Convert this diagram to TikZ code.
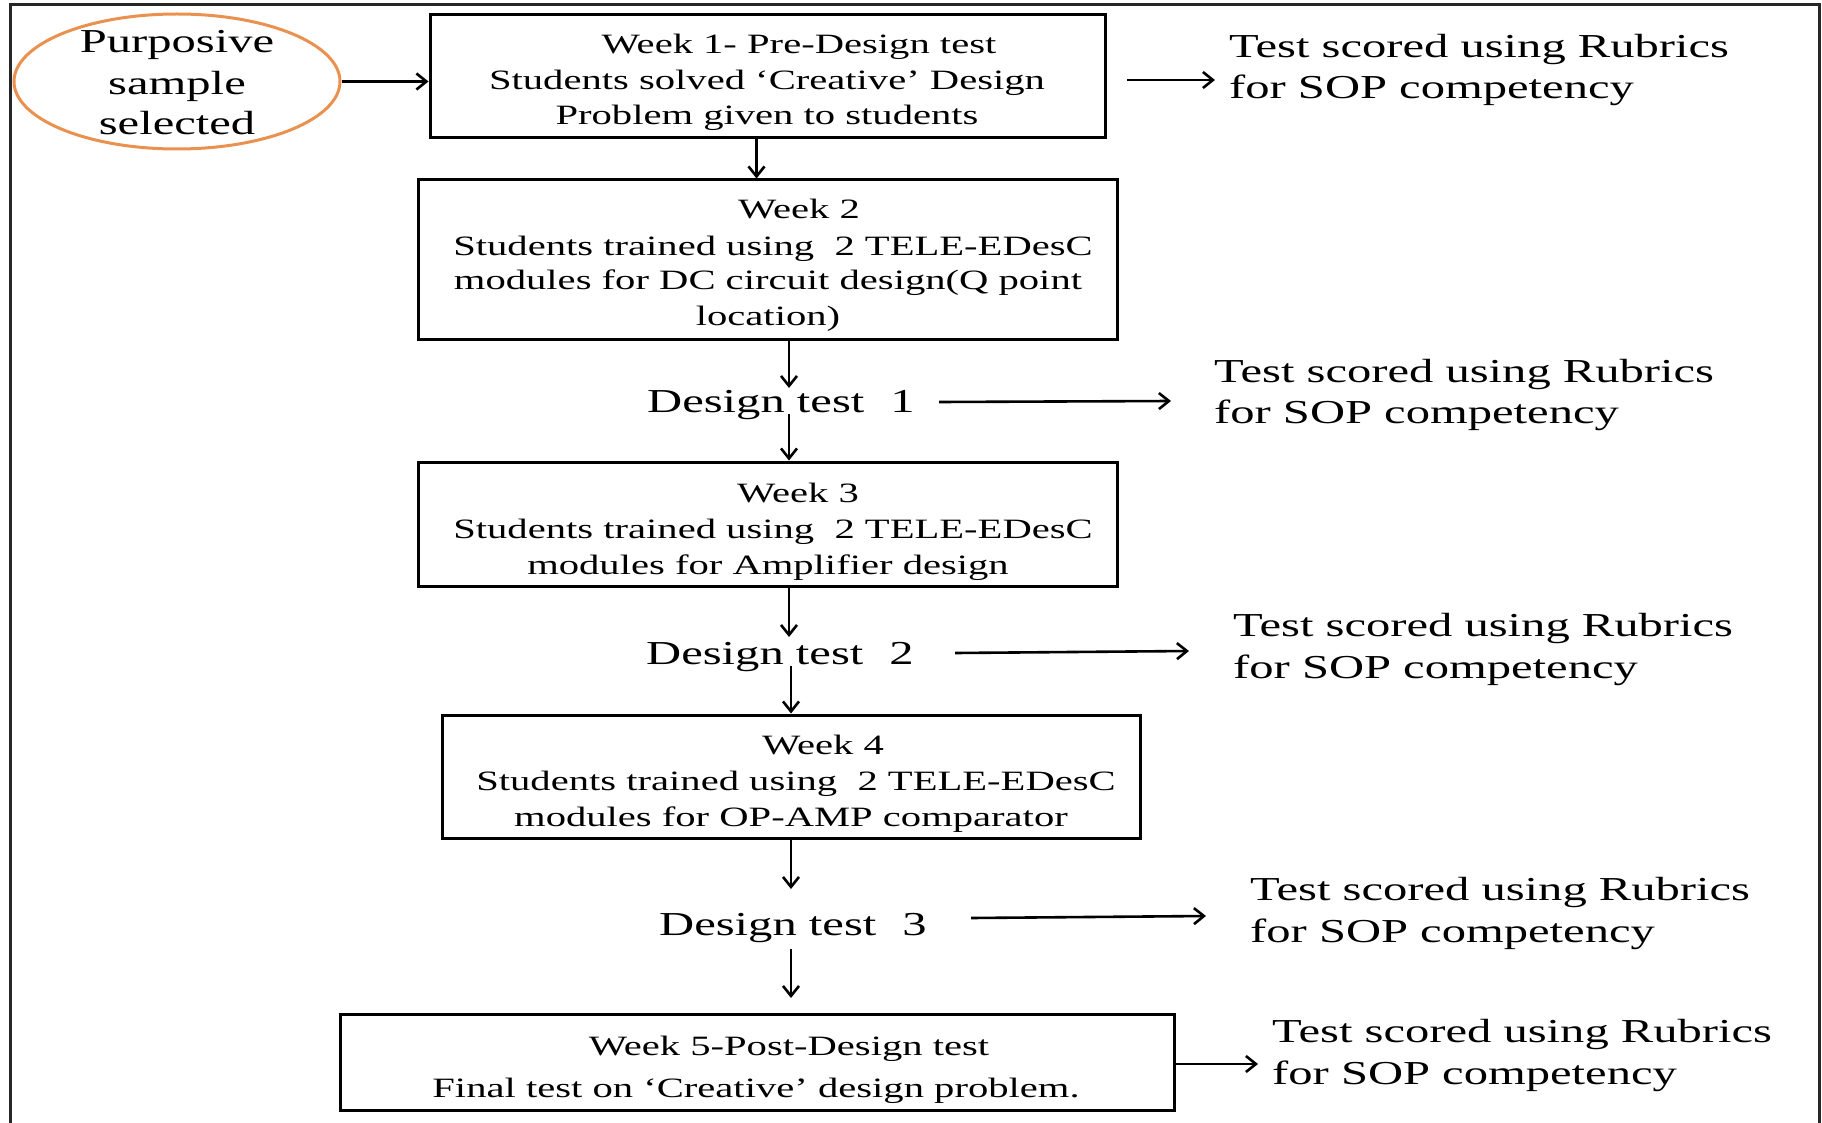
\documentclass[tikz,border=0pt]{standalone}
\usepackage{fontspec}
\setmainfont{Liberation Serif}[FakeStretch=1.45]
\usetikzlibrary{arrows.meta,shapes.geometric}
\definecolor{ellorange}{RGB}{234,145,80}
\tikzset{
  box/.style={draw, line width=3pt, inner sep=0pt},
  small/.style={font=\fontsize{28}{35}\selectfont, inner sep=0pt, anchor=base},
  big/.style={font=\fontsize{33.5}{42}\selectfont, inner sep=0pt, anchor=base},
  bigl/.style={font=\fontsize{33.5}{42}\selectfont, inner sep=0pt, anchor=base west},
  arr/.style={line width=2.6pt, -{Straight Barb[length=10pt,width=16pt]}}
}
\begin{document}
\begin{tikzpicture}[x=1pt,y=-1pt]
\useasboundingbox (0,0) rectangle (1822,1123);
% frame
\draw[line width=3pt, black!85] (10,1125) -- (10,5) -- (1819,5) -- (1819,1125);

% ellipse
\node[draw=ellorange, ellipse, line width=3pt, minimum width=326pt, minimum height=135pt, inner sep=0pt] (ell) at (177,81.5) {};
\node[big] (e1) at (177,53) {Purposive};
\node[big] (e2) at (177,95) {sample};
\node[big] (e3) at (177,135) {selected};

% boxes
\node[box, minimum width=675pt, minimum height=123pt] (b1) at (767.5,76.5) {};
\node[box, minimum width=699pt, minimum height=159pt] (b2) at (767.5,259.5) {};
\node[box, minimum width=699pt, minimum height=124pt] (b3) at (767.5,524) {};
\node[box, minimum width=698pt, minimum height=123pt] (b4) at (791,776.5) {};
\node[box, minimum width=834pt, minimum height=96pt] (b5) at (757,1062) {};

% box texts
\node[small] (t11) at (799,54) {Week 1- Pre-Design test};
\node[small] (t12) at (767,89.5) {Students solved ‘Creative’ Design};
\node[small] (t13) at (767,125) {Problem given to students};

\node[small] (t21) at (799,219) {Week 2};
\node[small] (t22) at (773,255) {Students trained using~~2 TELE-EDesC};
\node[small] (t23) at (768,290) {modules for DC circuit design(Q point};
\node[small] (t24) at (768,325) {location)};

\node[small] (t31) at (798,502) {Week 3};
\node[small] (t32) at (773,538) {Students trained using~~2 TELE-EDesC};
\node[small] (t33) at (768,574) {modules for Amplifier design};

\node[small] (t41) at (823,754) {Week 4};
\node[small] (t42) at (796,790) {Students trained using~~2 TELE-EDesC};
\node[small] (t43) at (791,826) {modules for OP-AMP comparator};

\node[small] (t51) at (789,1055) {Week 5-Post-Design test};
\node[small] (t52) at (756,1097) {Final test on ‘Creative’ design problem.};

% design tests
\node[bigl] (dt1) at (647,412) {Design test\hspace{26pt}1};
\node[bigl] (dt2) at (646,664) {Design test\hspace{26pt}2};
\node[bigl] (dt3) at (659,935) {Design test\hspace{26pt}3};

% right texts
\node[bigl] (r1a) at (1229,57.3) {Test scored using Rubrics};
\node[bigl] (r1b) at (1229,99) {for SOP competency};
\node[bigl] (r2a) at (1214,382) {Test scored using Rubrics};
\node[bigl] (r2b) at (1214,423) {for SOP competency};
\node[bigl] (r3a) at (1233,636) {Test scored using Rubrics};
\node[bigl] (r3b) at (1233,678) {for SOP competency};
\node[bigl] (r4a) at (1250,900) {Test scored using Rubrics};
\node[bigl] (r4b) at (1250,942) {for SOP competency};
\node[bigl] (r5a) at (1272,1042) {Test scored using Rubrics};
\node[bigl] (r5b) at (1272,1084) {for SOP competency};

% coordinates for free arrow ends
\coordinate (x1) at (756.5,0);
\coordinate (x2) at (789,0);
\coordinate (x3) at (791,0);
\coordinate (dt1top) at (789,388);
\coordinate (dt1bot) at (789,414);
\coordinate (dt2top) at (789,637);
\coordinate (dt2bot) at (791,666);
\coordinate (dt3top) at (791,889);
\coordinate (dt3bot) at (791,949);
\coordinate (b5in) at (791,998);
\coordinate (a1s) at (1127,80);
\coordinate (a1e) at (1215,80);
\coordinate (a2s) at (939,402);
\coordinate (a2e) at (1171,401);
\coordinate (a3s) at (955,653);
\coordinate (a3e) at (1189,651);
\coordinate (a4s) at (971,918);
\coordinate (a4e) at (1206,916);
\coordinate (a5e) at (1258,1064);

% arrows
\draw[arr] (ell.east) -- (ell.east -| b1.west);
\draw[arr] (a1s) -- (a1e);
\draw[arr] (b1.south -| x1) -- (b2.north -| x1);
\draw[arr] (b2.south -| x2) -- (dt1top);
\draw[arr] (dt1bot) -- (b3.north -| x2);
\draw[arr] (a2s) -- (a2e);
\draw[arr] (b3.south -| x2) -- (dt2top);
\draw[arr] (dt2bot) -- (b4.north -| x3);
\draw[arr] (a3s) -- (a3e);
\draw[arr] (b4.south -| x3) -- (dt3top);
\draw[arr] (dt3bot) -- (b5in);
\draw[arr] (a4s) -- (a4e);
\draw[arr] (b5.east |- a5e) -- (a5e);
\end{tikzpicture}
\end{document}
